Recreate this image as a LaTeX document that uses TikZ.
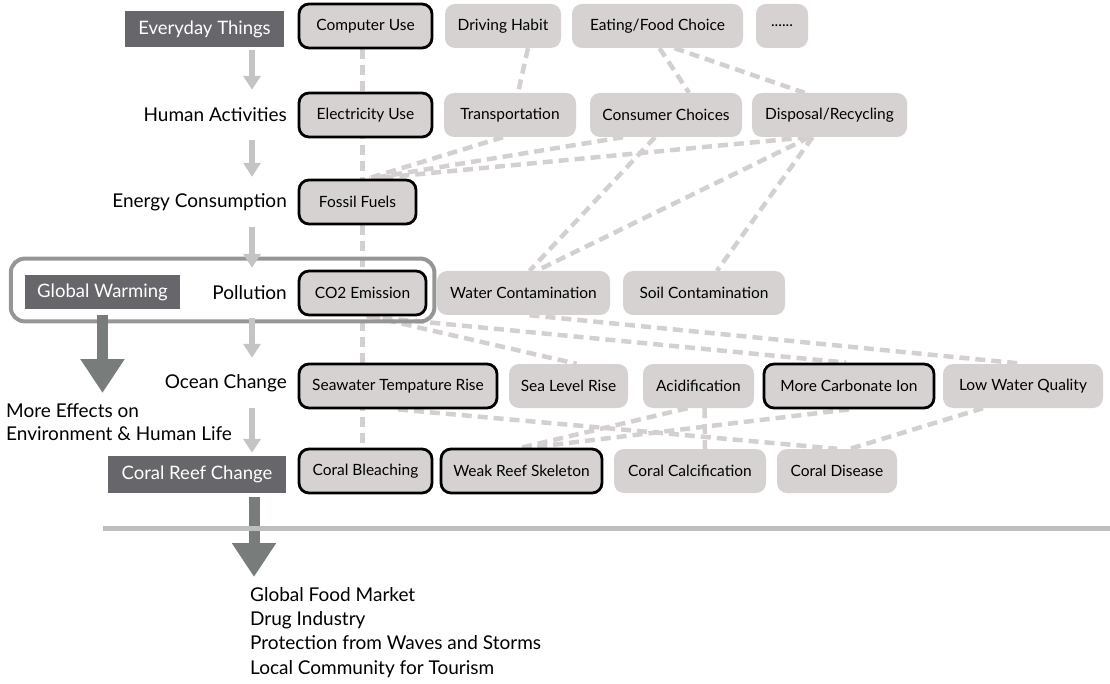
\documentclass[tikz,border=0pt]{standalone}
\usepackage{fontspec}
\setmainfont{Lato}
\usepackage{tikz}
\usetikzlibrary{shapes, arrows.meta, positioning, fit, backgrounds}
\definecolor{boxgray}{RGB}{214,210,210}
\definecolor{linkgray}{RGB}{212,208,208}
\definecolor{levelgray}{RGB}{103,102,106}
\definecolor{flowgray}{RGB}{196,196,196}
\definecolor{biggray}{RGB}{120,125,124}
\definecolor{framegray}{RGB}{150,150,150}
\definecolor{rulegray}{RGB}{190,190,190}

\begin{document}
\begin{tikzpicture}
  [
    x=1pt, y=-1pt,
    Box/.style={rectangle, rounded corners=10pt, fill=boxgray, minimum height=44pt, inner sep=0pt, font=\fontsize{15.5}{17}\selectfont},
    Bold/.style={Box, draw=black, line width=2.8pt},
    Level/.style={rectangle, fill=levelgray, text=white, inner sep=0pt, font=\fontsize{18.5}{20}\selectfont},
    Stage/.style={anchor=east, minimum height=44pt, inner sep=0pt, font=\fontsize{19}{21}\selectfont},
    Frame/.style={draw=framegray, line width=4pt, rounded corners=14pt, inner xsep=10.5pt, inner ysep=8pt},
    Link/.style={draw=linkgray, line width=4.5pt, dash pattern=on 10pt off 6pt},
    Flow/.style={draw=flowgray, line width=5.5pt, shorten <=3pt, shorten >=3pt, -{Triangle[width=17pt, length=14pt]}},
    Big/.style={draw=biggray, line width=11pt, -{Triangle[width=42pt, length=34pt]}},
    Rule/.style={draw=rulegray, line width=5pt}
  ]
  \useasboundingbox (0,0) rectangle (1110,684);
  % Nodes
  \node[Level, minimum width=159, minimum height=36] (everyday) at(204.5, 29) {Everyday Things};
  \node[Bold, minimum width=133] (computer) at(365.5, 26) {Computer Use};
  \node[Box, minimum width=116] (driving) at(503, 26) {Driving Habit};
  \node[Box, minimum width=171] (eating) at(657.5, 26) {Eating/Food Choice};
  \node[Box, minimum width=52] (etc) at(782, 26) {......};

  \node[Stage] (human) at(287, 115) {Human Activities};
  \node[Bold, minimum width=133] (electricity) at(365.5, 115) {Electricity Use};
  \node[Box, minimum width=132] (transport) at(510, 115) {Transportation};
  \node[Box, minimum width=152] (consumer) at(666, 115) {Consumer Choices};
  \node[Box, minimum width=155] (disposal) at(829.5, 115) {Disposal/Recycling};

  \node[Stage] (energy) at(287, 202) {Energy Consumption};
  \node[Bold, minimum width=117] (fossil) at(357.5, 202) {Fossil Fuels};

  \node[Level, minimum width=155, minimum height=34] (warming) at(102.5, 292) {Global Warming};
  \node[Stage] (pollution) at(287, 293) {Pollution};
  \node[Bold, minimum width=127] (co2) at(362.5, 293) {CO2 Emission};
  \node[Box, minimum width=173] (water) at(523.5, 293) {Water Contamination};
  \node[Box, minimum width=162] (soil) at(704, 293) {Soil Contamination};
  \node[Frame, fit=(warming)(co2), xshift=-3.5pt, yshift=3pt] (frame) {};

  \node[Stage] (ocean) at(287, 383) {Ocean Change};
  \node[Bold, minimum width=198] (seawater) at(398, 386) {Seawater Tempature Rise};
  \node[Box, minimum width=119] (sealevel) at(568.5, 386) {Sea Level Rise};
  \node[Box, minimum width=111] (acid) at(698.5, 386) {Acidification};
  \node[Bold, minimum width=170] (carbonate) at(849, 386) {More Carbonate Ion};
  \node[Box, minimum width=160] (lowwater) at(1023, 386) {Low Water Quality};
  \node[anchor=north west, align=left, inner sep=0pt, font=\fontsize{19}{23}\selectfont] (effects) at(6, 403) {More Effects on\\Environment \& Human Life};

  \node[Level, minimum width=178, minimum height=37] (reef) at(197, 474.5) {Coral Reef Change};
  \node[Bold, minimum width=133] (bleaching) at(365.5, 471) {Coral Bleaching};
  \node[Bold, minimum width=161] (skeleton) at(521.5, 471) {Weak Reef Skeleton};
  \node[Box, minimum width=152] (calcification) at(690, 471) {Coral Calcification};
  \node[Box, minimum width=120] (disease) at(837, 471) {Coral Disease};

  \node[anchor=north west, align=left, inner sep=0pt, font=\fontsize{19}{24.3}\selectfont] (impact) at(250, 587) {Global Food Market\\Drug Industry\\Protection from Waves and Storms\\Local Community for Tourism};

  \coordinate (axis) at(252, 0);
  \coordinate (drop) at(254, 0);

  % Lines
  \begin{scope}[on background layer]
    \path[Link] ([xshift=-3pt]computer.south) -- ([xshift=-3pt]bleaching.north);
    \path[Link] ([xshift=25pt]driving.south) -- ([xshift=8pt]transport.north);
    \path[Link] ([xshift=2pt]eating.south) -- ([xshift=23pt]consumer.north);
    \path[Link] ([xshift=17pt]eating.south) -- ([xshift=-25pt]disposal.north);
    \path[Link] ([xshift=-7pt]transport.south) -- ([xshift=10pt]fossil.north);
    \path[Link] ([xshift=-43pt]consumer.south) -- ([xshift=12pt]fossil.north);
    \path[Link] ([xshift=-22pt]disposal.south) -- ([xshift=14pt]fossil.north);
    \path[Link] ([xshift=-11pt]consumer.south) -- ([xshift=6pt]water.north);
    \path[Link] ([xshift=-20pt]disposal.south) -- ([xshift=13pt]water.north);
    \path[Link] ([xshift=-17pt]disposal.south) -- ([xshift=13pt]soil.north);
    \path[Link] ([xshift=8pt]co2.south) -- ([xshift=8pt]sealevel.north);
    \path[Link] ([xshift=4pt]co2.south) -- ([xshift=-3pt]carbonate.north);
    \path[Link] ([xshift=6pt]water.south) -- (lowwater.north);
    \path[Link] (seawater.south) -- (disease.north);
    \path[Link] ([xshift=-11pt]acid.south) -- (skeleton.north);
    \path[Link] (carbonate.south) -- ([xshift=8pt]skeleton.north);
    \path[Link] ([xshift=6pt]acid.south) -- ([xshift=15pt]calcification.north);
    \path[Link] ([xshift=-40pt]lowwater.south) -- ([xshift=13pt]disease.north);
  \end{scope}

  % Arrows
  \path[Flow] (everyday.south -| axis) -- (human.north -| axis);
  \path[Flow] (human.south -| axis) -- (energy.north -| axis);
  \path[Flow] (energy.south -| axis) -- (pollution.north -| axis);
  \path[Flow] (pollution.south -| axis) -- (ocean.north -| axis);
  \path[Flow] (ocean.south -| axis) -- (reef.north -| axis);
  \path[Big, shorten <=6pt, shorten >=10pt] (warming.south) -- (warming |- effects.north);
  \path[Big, shorten <=4pt, shorten >=10pt] (reef.south -| drop) -- (impact.north -| drop);
  \path[Rule] (103, 528) -- (1110, 528);
\end{tikzpicture}
\end{document}
